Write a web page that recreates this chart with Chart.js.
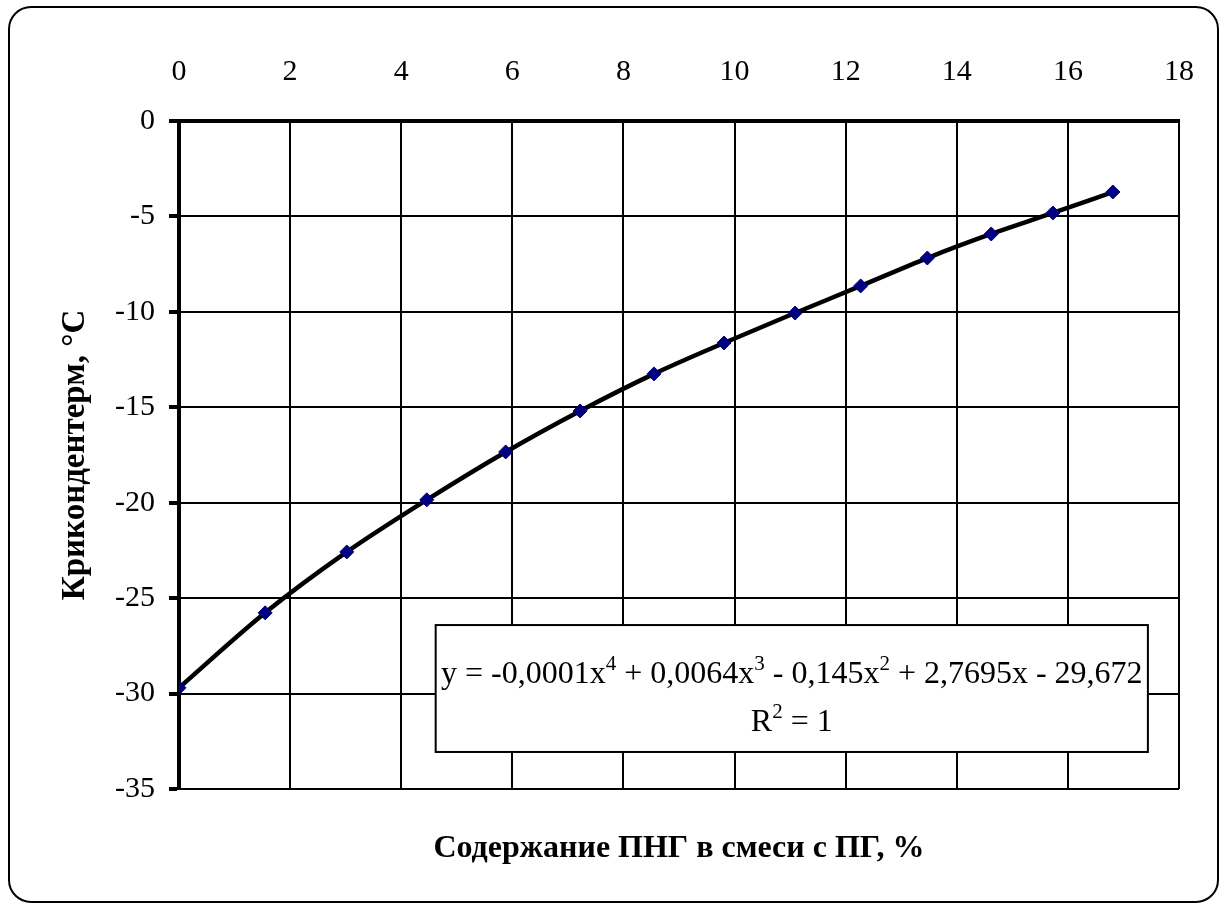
<!DOCTYPE html>
<html>
<head>
<meta charset="utf-8">
<script src="https://cdn.jsdelivr.net/npm/chart.js@4/dist/chart.umd.min.js"></script>
<style>
  body { margin: 0; background: #fff; }
  #wrap { width: 1226px; height: 910px; position: relative; }
</style>
</head>
<body>
<div id="wrap"><canvas id="myChart" width="1226" height="910"></canvas></div>
<script>
// data
var pngShare = [0, 1.55, 3.02, 4.46, 5.88, 7.22, 8.55, 9.81, 11.09, 12.27, 13.47, 14.62, 15.73, 16.81];
var cricondentherm = [-29.7, -25.77, -22.58, -19.85, -17.34, -15.19, -13.25, -11.63, -10.06, -8.64, -7.18, -5.92, -4.82, -3.72];

// trendline label: text pieces, superscripts marked with true
var eqLine1 = [["y = -0,0001x", false], ["4", true], [" + 0,0064x", false], ["3", true], [" - 0,145x", false], ["2", true], [" + 2,7695x - 29,672", false]];
var eqLine2 = [["R", false], ["2", true], [" = 1", false]];

var xTitle = "Содержание ПНГ в смеси с ПГ, %";
var yTitle = "Крикондентерм, °С";

var points = [];
for (var i = 0; i < pngShare.length; i++) {
    points.push({x: pngShare[i], y: cricondentherm[i]});
}

var serif = "'Liberation Serif', 'Times New Roman', serif";

// draws one line of mixed normal / superscript text centred at cx
function drawPieces(ctx, pieces, cx, baseY) {
    var big = "32px " + serif;
    var small = "21px " + serif;
    var total = 0;
    pieces.forEach(function (p) {
        ctx.font = p[1] ? small : big;
        total += ctx.measureText(p[0]).width;
    });
    var x = cx - total / 2;
    pieces.forEach(function (p) {
        ctx.font = p[1] ? small : big;
        ctx.fillText(p[0], x, p[1] ? baseY - 13 : baseY);
        x += ctx.measureText(p[0]).width;
    });
}

var framePlugin = {
    id: "frame",
    beforeDraw: function (chart) {
        var ctx = chart.ctx;
        ctx.save();
        ctx.fillStyle = "#fff";
        ctx.fillRect(0, 0, chart.width, chart.height);
        ctx.strokeStyle = "#000";
        ctx.lineWidth = 2;
        ctx.beginPath();
        ctx.roundRect(9, 7, 1209, 895, 22);
        ctx.stroke();
        ctx.restore();
    }
};

var eqPlugin = {
    id: "eqBox",
    afterDatasetsDraw: function (chart) {
        var ctx = chart.ctx;
        var xs = chart.scales.x, ys = chart.scales.y;
        var left = xs.getPixelForValue(4.62), right = xs.getPixelForValue(17.44);
        var top = ys.getPixelForValue(-26.41), bottom = ys.getPixelForValue(-33.06);
        ctx.save();
        ctx.fillStyle = "#fff";
        ctx.fillRect(left, top, right - left, bottom - top);
        ctx.strokeStyle = "#000";
        ctx.lineWidth = 2;
        ctx.strokeRect(left, top, right - left, bottom - top);
        ctx.fillStyle = "#000";
        ctx.textBaseline = "alphabetic";
        ctx.textAlign = "left";
        var cx = (left + right) / 2;
        drawPieces(ctx, eqLine1, cx, top + 58);
        drawPieces(ctx, eqLine2, cx, top + 106);
        ctx.restore();
    }
};

var ctx = document.getElementById("myChart");
var myChart = new Chart(ctx, {
    type: "scatter",
    data: {
        datasets: [
            {
                label: "trend",
                data: points,
                showLine: true,
                borderColor: "#000",
                borderWidth: 4.5,
                tension: 0.4,
                cubicInterpolationMode: "monotone",
                pointRadius: 0,
                order: 1
            },
            {
                label: "points",
                data: points,
                showLine: false,
                pointStyle: "rectRot",
                pointRadius: 7,
                backgroundColor: "#000080",
                borderColor: "#000080",
                order: 0
            }
        ]
    },
    options: {
        responsive: false,
        animation: false,
        layout: {padding: {left: 10, right: 47, top: 10, bottom: 10}},
        plugins: {
            legend: {display: false},
            tooltip: {enabled: false}
        },
        scales: {
            x: {
                type: "linear",
                position: "top",
                min: 0,
                max: 18,
                ticks: {stepSize: 2, padding: 31, color: "#000", font: {family: serif, size: 30}},
                grid: {color: "#000", lineWidth: 2, drawTicks: false},
                border: {color: "#000", width: 4},
                afterFit: function (s) { s.height = 111; }
            },
            xb: {
                type: "linear",
                position: "bottom",
                min: 0,
                max: 18,
                ticks: {display: false},
                grid: {display: false},
                border: {display: false},
                title: {
                    display: true,
                    text: xTitle,
                    color: "#000",
                    font: {family: serif, size: 32, weight: "bold"},
                    padding: {top: 0, bottom: 32}
                },
                afterFit: function (s) { s.height = 111; }
            },
            y: {
                type: "linear",
                min: -35,
                max: 0,
                ticks: {stepSize: 5, padding: 14, color: "#000", font: {family: serif, size: 30}},
                grid: {color: "#000", lineWidth: 2, tickLength: 10, tickWidth: 4, tickColor: "#000"},
                border: {color: "#000", width: 4},
                title: {
                    display: true,
                    text: yTitle,
                    color: "#000",
                    font: {family: serif, size: 33, weight: "bold"},
                    padding: {top: 46, bottom: 0}
                },
                afterFit: function (s) { s.width = 169; }
            }
        }
    },
    plugins: [framePlugin, eqPlugin]
});
</script>
</body>
</html>
